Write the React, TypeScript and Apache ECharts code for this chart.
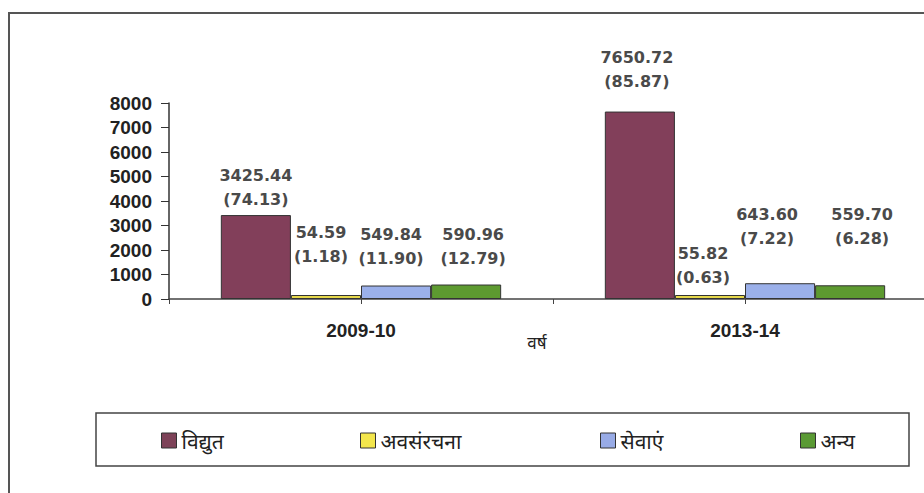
import React, { useEffect, useRef } from "react";
import * as echarts from "echarts";

const CATEGORIES = ["2009-10", "2013-14"];
const SERIES_NAMES = ["विद्युत", "अवसंरचना", "सेवाएं", "अन्य"];
const VALUES = [
  [3425.44, 7650.72],
  [54.59, 55.82],
  [549.84, 643.6],
  [590.96, 559.7],
];
const SHARES = [
  [74.13, 85.87],
  [1.18, 0.63],
  [11.9, 7.22],
  [12.79, 6.28],
];
const Y_MIN = 0;
const Y_MAX = 8000;
const Y_STEP = 1000;
const AXIS_NAME = "वर्ष";

const COLORS = ["#823f5a", "#e6d84a", "#9bb0ea", "#5d9a30"];
const LEGEND_SWATCH = ["#7d4258", "#f3e64c", "#98abe6", "#5a9a34"];
// label offsets (layout only)
const LABEL_OFFSETS = [
  [[0, 1], [-3, -13]],
  [[-5, -22], [-7, -1]],
  [[-5, -10], [-13, -28]],
  [[7, -9], [12, -30]],
];
const LEGEND_LEFT = [161, 360, 600, 800];

export default function App() {
  const ref = useRef<HTMLDivElement>(null);
  useEffect(() => {
    document.body.style.margin = "0";
    const chart = echarts.init(ref.current!, null, { renderer: "svg" });
    const series = SERIES_NAMES.map((name, si) => ({
      name,
      type: "bar",
      xAxisIndex: 0,
      yAxisIndex: 0,
      barGap: "0%",
      barCategoryGap: "27%",
      barMinHeight: 4,
      itemStyle: { color: COLORS[si], borderColor: "#333", borderWidth: 1 },
      data: VALUES[si].map((v, ci) => ({
        value: v,
        label: { offset: LABEL_OFFSETS[si][ci] },
      })),
      label: {
        show: true,
        position: "top",
        distance: 5,
        fontFamily: "DejaVu Sans",
        fontWeight: "bold",
        fontSize: 16,
        lineHeight: 24,
        color: "#4a4a4a",
        align: "center",
        formatter: (p: any) =>
          `${VALUES[si][p.dataIndex].toFixed(2)}\n(${SHARES[si][p.dataIndex].toFixed(2)})`,
      },
    }));
    chart.setOption({
      animation: false,
      backgroundColor: "#fff",
      grid: {
        left: 169,
        width: 768,
        top: 103,
        height: 196,
        containLabel: false,
        outerBoundsMode: "none",
      },
      xAxis: [
        {
          type: "category",
          data: CATEGORIES,
          axisLine: { lineStyle: { color: "#444", width: 1.5 } },
          axisTick: { show: false },
          axisLabel: {
            margin: 22,
            fontFamily: "Liberation Sans, Arial",
            fontWeight: "bold",
            fontSize: 19,
            color: "#222",
          },
        },
        {
          type: "category",
          position: "bottom",
          data: ["", "", "", ""],
          axisLine: { show: false },
          axisLabel: { show: false },
          axisTick: { show: true, length: 5, lineStyle: { color: "#444" } },
        },
      ],
      yAxis: {
        type: "value",
        min: Y_MIN,
        max: Y_MAX,
        interval: Y_STEP,
        splitLine: { show: false },
        axisLine: { show: true, lineStyle: { color: "#333", width: 1.5 } },
        axisTick: { show: true, length: 8, lineStyle: { color: "#333" } },
        axisLabel: {
          margin: 17,
          fontFamily: "Liberation Sans, Arial",
          fontWeight: "bold",
          fontSize: 19,
          color: "#222",
          formatter: (v: number) => String(v),
        },
      },
      legend: SERIES_NAMES.map((n, i) => ({
        data: [{ name: n, itemStyle: { color: LEGEND_SWATCH[i], borderColor: "#333", borderWidth: 1 } }],
        left: LEGEND_LEFT[i],
        top: 430,
        padding: 0,
        itemWidth: 15,
        itemHeight: 15,
        itemGap: 6,
        icon: "rect",
        textStyle: { fontFamily: "Noto Sans, sans-serif", fontSize: 21, color: "#222" },
        selectedMode: false,
      })),
      graphic: [
        {
          type: "rect",
          shape: { x: 9, y: 13, width: 940, height: 500 },
          style: { fill: "none", stroke: "#555", lineWidth: 2 },
          silent: true,
        },
        {
          type: "rect",
          shape: { x: 96, y: 413, width: 813, height: 53 },
          style: { fill: "none", stroke: "#444", lineWidth: 1.5 },
          silent: true,
        },
        {
          type: "text",
          x: 537,
          y: 342,
          style: {
            text: AXIS_NAME,
            fontFamily: "Noto Sans, sans-serif",
            fontSize: 17,
            fill: "#222",
            align: "center",
            verticalAlign: "middle",
          },
        },
      ],
      series,
    });
    return () => chart.dispose();
  }, []);
  return <div ref={ref} style={{ width: 924, height: 493 }} />;
}
